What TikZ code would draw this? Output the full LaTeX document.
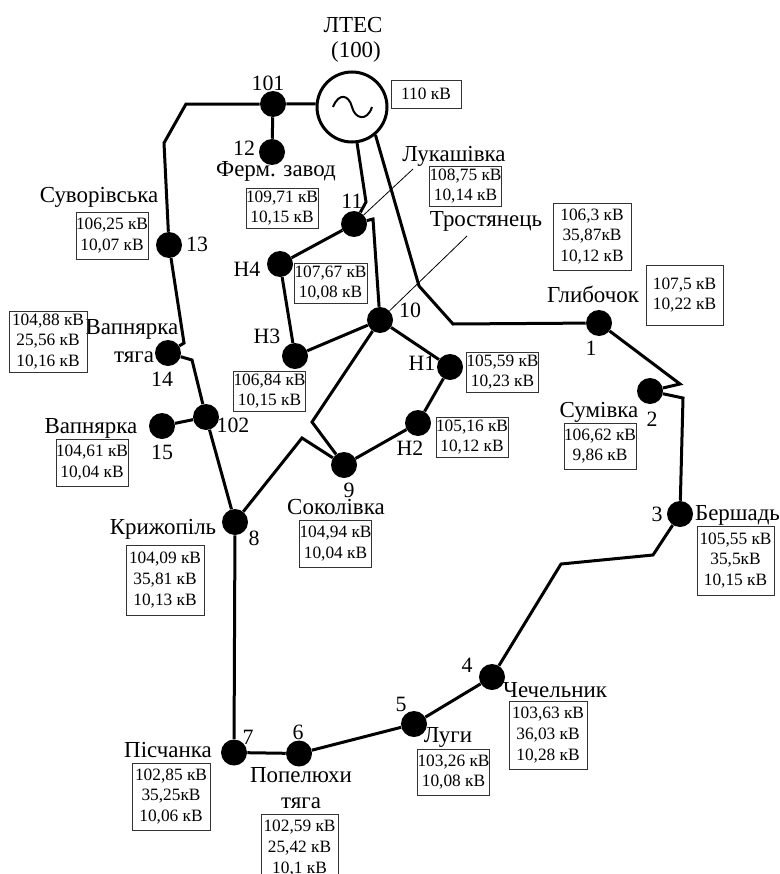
\documentclass[tikz,border=0pt]{standalone}
\usepackage{fontspec}
\setmainfont{Liberation Serif}
\usetikzlibrary{arrows.meta, positioning, calc}
\tikzset{
  busdot/.style={circle, fill=black, inner sep=0pt, minimum size=19.5pt},
  feeder/.style={line width=2.25pt},
  leader/.style={line width=0.6pt},
  gensym/.style={circle, draw=black, fill=white, line width=2.25pt, inner sep=0pt, minimum size=52.5pt},
  lbl/.style={font=\fontsize{17.2pt}{18pt}\selectfont, inner sep=0pt},
  numlbl/.style={font=\fontsize{16.4pt}{18pt}\selectfont, inner sep=0pt},
  valbox/.style={draw=black!80, line width=0.7pt, inner sep=0pt, align=center,
    font=\fontsize{13pt}{15.6pt}\selectfont},
}

\begin{document}
\begin{tikzpicture}[x=0.75pt, y=-0.75pt]
  \useasboundingbox (0,0) rectangle (780,874);

  %% Generator
  \node[gensym] (gen) at (352,107) {};
  \draw[line width=1.5pt] (333,107) .. controls (339,92) and (349,95) .. (352,107)
    .. controls (355,119) and (367,122) .. (372,107);

  %% Buses
  \foreach \nm/\x/\y in {
    b101/273/104, b12/272/152, b11/354/224, b13/169/245, bH4/280/264,
    b14/168/353, bH3/295/356, b10/380/320, b102/206/417, b15/162/426,
    b9/344/465, b8/235/522, b1/599/323, b2/650/391, bH1/450/367,
    bH2/418/423, b3/680/514, b4/492/677, b5/414/724, b6/299/753.5, b7/234/752.5
  }{
    \node[busdot] (\nm) at (\x,\y) {};
  }

  %% Line bends
  \foreach \nm/\x/\y in {
    k1/186/104, k2/164/143, k3/184/343, k4/192/360, k5/302/438, k6/312/422,
    k7/373/219, k8/366/202, k9/419/286, k10/453/324, k11/680/384, k12/683/398,
    k13/653/555, k14/561/564, t11/413/169, t10/467/236
  }{
    \coordinate (\nm) at (\x,\y);
  }

  %% Feeders
  \draw[feeder] (gen.175) -- (b101) -- (k1) -- (k2) -- (b13) -- (k3) -- (b14) -- (k4) -- (b102) -- (b8);
  \draw[feeder] (b101) -- (b12);
  \draw[feeder] (b102) -- (b15);
  \draw[feeder] (gen.-82) -- (k8) -- (b11) -- (bH4) -- (bH3) -- (b10) -- (k7) -- (b11);
  \draw[feeder] (gen.-50) -- (k9) -- (k10) -- (b1) -- (k11) -- (b2) -- (k12) -- (b3)
    -- (k13) -- (k14) -- (b4) -- (b5) -- (b6) -- (b7) -- (b8);
  \draw[feeder] (b8) -- (k5) -- (b9) -- (k6) -- (b10);
  \draw[feeder] (b10) -- (bH1) -- (bH2) -- (b9);

  %% Leaders to names
  \draw[leader] (b11) -- (t11);
  \draw[leader] (b10) -- (t10);

  %% Names
  \foreach \nm/\x/\y/\txt in {
    nLtes/353/25/{ЛТЕС}, nGen/356/52/{(100)}, nFerm/276/171/{Ферм. завод},
    nLuk/454/156/{Лукашівка}, nTros/486/221/{Тростянець}, nSuv/99/197/{Суворівська},
    nVapT/132/329/{Вапнярка}, nVapTb/134/357/{тяга}, nVap/91/428/{Вапнярка},
    nSok/336/507/{Соколівка}, nKryz/163/529/{Крижопіль}, nGlyb/593/294/{Глибочок},
    nSum/599/412/{Сумівка}, nBer/737.5/515/{Бершадь}, nChe/555/690/{Чечельник},
    nLuh/448/737/{Луги}, nPis/168/750/{Пісчанка}, nPop/301/775/{Попелюхи},
    nPopb/301/803/{тяга}
  }{
    \node[lbl] (\nm) at (\x,\y) {\txt};
  }

  %% Numbers
  \foreach \nm/\x/\y/\txt in {
    m101/268/83/{101}, m12/244/148/{12}, m11/352/201/{11}, m13/197/244/{13},
    mH4/247/269/{Н4}, m14/162/379/{14}, mH3/267/336/{Н3}, m10/410/310/{10},
    m15/162/452/{15}, m102/233/425/{102}, m9/349/490/{9}, m8/254/538/{8},
    m1/591/348/{1}, m2/652/419/{2}, mH1/422/363/{Н1}, mH2/410/448/{Н2},
    m3/657/514/{3}, m4/467/665/{4}, m5/401/704/{5}, m6/298/732/{6}, m7/248/737/{7}
  }{
    \node[numlbl] (\nm) at (\x,\y) {\txt};
  }

  %% Voltage boxes: centre, width, height
  \foreach \nm/\x/\y/\bw/\bh/\la/\lb/\lc in {
    vGen/426/94/70/28/{110 кВ}/{}/{},
    vLuk/465.5/186/69/40/{108,75 кВ}/{10,14 кВ}/{},
    vFerm/282/208/70/40/{109,71 кВ}/{10,15 кВ}/{},
    vSuv/112/235.5/70/47/{106,25 кВ}/{10,07 кВ}/{},
    vH4/330.5/283/73/40/{107,67 кВ}/{10,08 кВ}/{},
    vVapT/48/341.5/78/61/{104,88 кВ}/{25,56 кВ}/{10,16 кВ},
    vH3/269.5/391/69/40/{106,84 кВ}/{10,15 кВ}/{},
    vVap/92/462.5/70/47/{104,61 кВ}/{10,04 кВ}/{},
    vSok/335.5/543.5/69/47/{104,94 кВ}/{10,04 кВ}/{},
    vKryz/165/580/78/70/{104,09 кВ}/{35,81 кВ}/{10,13 кВ},
    vTros/592/236.5/78/67/{106,3 кВ}/{35,87кВ}/{10,12 кВ},
    vGlyb/684.5/295/77/60/{107,5 кВ}/{10,22 кВ}/{},
    vH1/502.5/372/69/40/{105,59 кВ}/{10,23 кВ}/{},
    vH2/472/437/70/40/{105,16 кВ}/{10,12 кВ}/{},
    vSum/600/446/70/46/{106,62 кВ}/{9,86 кВ}/{},
    vBer/735.5/560.5/77/69/{105,55 кВ}/{35,5кВ}/{10,15 кВ},
    vChe/548/735/78/68/{103,63 кВ}/{36,03 кВ}/{10,28 кВ},
    vLuh/453.5/772/71/46/{103,26 кВ}/{10,08 кВ}/{},
    vPis/171/796.5/78/67/{102,85 кВ}/{35,25кВ}/{10,06 кВ},
    vPop/299.5/848/77/68/{102,59 кВ}/{25,42 кВ}/{10,1 кВ}
  }{
    \node[valbox, minimum width=\bw*0.75pt, minimum height=\bh*0.75pt] (\nm) at (\x,\y)
      {\la\ifx\lb\empty\else\\\lb\fi\ifx\lc\empty\else\\\lc\fi};
  }
\end{tikzpicture}
\end{document}
